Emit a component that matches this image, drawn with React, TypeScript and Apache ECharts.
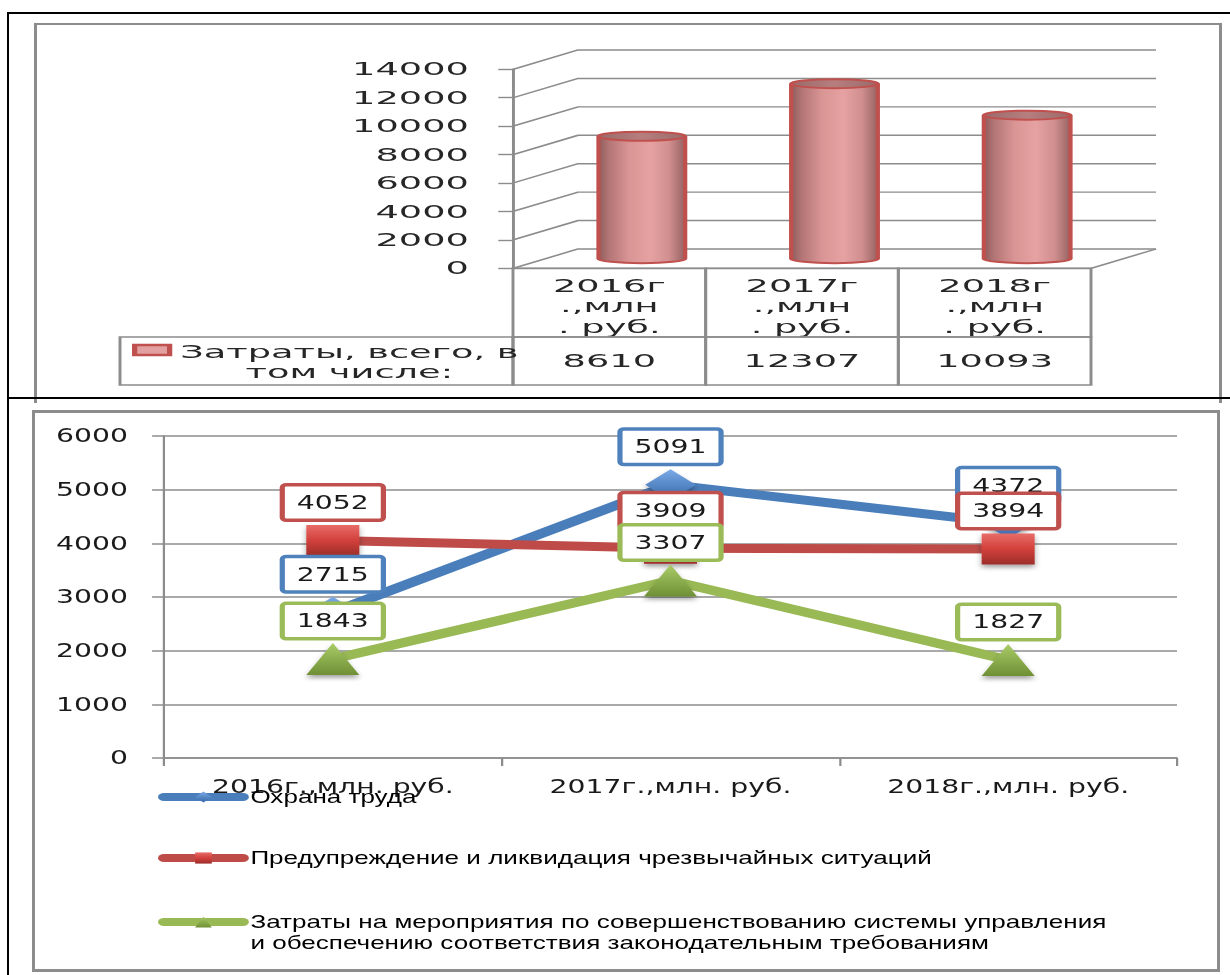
import React, { useEffect, useRef } from "react";
import * as echarts from "echarts";

// ---------- DATA ----------
const topCategories = ["2016г.,млн. руб.", "2017г.,млн. руб.", "2018г.,млн. руб."];
const topHeaderLabels = ["2016г\n.,млн\n. руб.", "2017г\n.,млн\n. руб.", "2018г\n.,млн\n. руб."];
const totalCosts = [8610, 12307, 10093];
const totalSeriesName = "Затраты, всего, в том числе:";
const topTicks = [0, 2000, 4000, 6000, 8000, 10000, 12000, 14000];

const lineCategories = ["2016г.,млн. руб.", "2017г.,млн. руб.", "2018г.,млн. руб."];
const laborProtection = [2715, 5091, 4372];
const emergencies = [4052, 3909, 3894];
const managementSystem = [1843, 3307, 1827];
const seriesNames = [
  "Охрана труда",
  "Предупреждение и ликвидация чрезвычайных ситуаций",
  "Затраты на мероприятия по совершенствованию системы управления и обеспечению соответствия законодательным требованиям",
];

// ---------- STYLE ----------
const S1 = 2.1; // horizontal stretch of the upper picture
const W1 = 1230 / S1;
const H1 = 398;
const S2 = 1.49; // horizontal stretch of the lower picture
const W2 = 1230 / S2;
const H2 = 577;
const DX = 65 / S1;
const DY = -19.3;
const GRAY = "#8c8c8c";
const RED = "#c0504d";
const BLUE = "#4f81bd";
const GREEN = "#9bbb59";
const FONT = "'DejaVu Sans', Verdana, sans-serif";
const LFONT = "'Liberation Sans', Arial, sans-serif";
const TXT = "#262626";
const HEADER_H = 68.7;
const ROW_H = 48;

const plain = (v: number) => String(v);

const bodyGradient = () =>
  new echarts.graphic.LinearGradient(0, 0, 1, 0, [
    { offset: 0, color: "#8e5c5c" },
    { offset: 0.12, color: "#b37575" },
    { offset: 0.35, color: "#d99494" },
    { offset: 0.6, color: "#e6a2a2" },
    { offset: 0.82, color: "#d08e8e" },
    { offset: 1, color: "#956262" },
  ]);

function wallItem(params: any, api: any) {
  const v = api.value(1);
  const bw = api.size([1, 0])[0];
  const p0 = api.coord([0, v]);
  const p2 = api.coord([2, v]);
  const xL = p0[0] - bw / 2;
  const xR = p2[0] + bw / 2;
  const y = p0[1];
  const children: any[] = [
    {
      type: "polyline",
      shape: { points: [[xL, y], [xL + DX, y + DY], [xR + DX, y + DY]] },
      style: { stroke: GRAY, lineWidth: 1.4, fill: null },
    },
  ];
  if (v === 0) {
    children.push({
      type: "line",
      shape: { x1: xR, y1: y, x2: xR + DX, y2: y + DY },
      style: { stroke: GRAY, lineWidth: 1.4 },
    });
  }
  return { type: "group", children };
}

function cylinderItem(params: any, api: any) {
  const i = api.value(0);
  const v = api.value(1);
  const top = api.coord([i, v]);
  const base = api.coord([i, 0]);
  const bw = api.size([1, 0])[0];
  const w = bw * 0.45;
  const cx = top[0] + DX / 2;
  const yt = top[1] + DY / 2;
  const yb = base[1] + DY / 2;
  const ry = 4.5;
  return {
    type: "group",
    children: [
      { type: "ellipse", shape: { cx, cy: yb, rx: w / 2, ry }, style: { fill: bodyGradient(), stroke: RED, lineWidth: 2 } },
      { type: "rect", shape: { x: cx - w / 2, y: yt, width: w, height: yb - yt }, style: { fill: bodyGradient() } },
      { type: "line", shape: { x1: cx - w / 2, y1: yt, x2: cx - w / 2, y2: yb }, style: { stroke: RED, lineWidth: 2 } },
      { type: "line", shape: { x1: cx + w / 2, y1: yt, x2: cx + w / 2, y2: yb }, style: { stroke: RED, lineWidth: 2 } },
      {
        type: "ellipse",
        shape: { cx, cy: yt, rx: w / 2, ry },
        style: {
          fill: new echarts.graphic.LinearGradient(0, 0, 1, 0, [
            { offset: 0, color: "#9a6a6a" },
            { offset: 0.5, color: "#b77e7e" },
            { offset: 1, color: "#9a6a6a" },
          ]),
          stroke: RED,
          lineWidth: 2,
        },
      },
    ],
  };
}

function tableItem(params: any, api: any) {
  const i = api.value(0);
  const c = api.coord([i, 0]);
  const bw = api.size([1, 0])[0];
  const x = c[0] - bw / 2;
  const y0 = c[1];
  return {
    type: "group",
    children: [
      { type: "rect", shape: { x, y: y0, width: bw, height: HEADER_H }, style: { fill: "none", stroke: GRAY, lineWidth: 1.4 } },
      { type: "rect", shape: { x, y: y0 + HEADER_H, width: bw, height: ROW_H }, style: { fill: "none", stroke: GRAY, lineWidth: 1.4 } },
      {
        type: "text",
        style: {
          text: String(api.value(1)),
          x: c[0],
          y: y0 + HEADER_H + ROW_H / 2,
          align: "center",
          verticalAlign: "middle",
          fontFamily: FONT,
          fontSize: 17.5,
          fill: TXT,
        },
      },
    ],
  };
}

const topOption: any = {
  animation: false,
  grid: { left: 513 / S1, top: 69.3, width: 578 / S1, height: 199 },
  xAxis: {
    type: "category",
    data: topCategories,
    axisLine: { show: true, lineStyle: { color: GRAY, width: 1.4 } },
    axisTick: { show: false },
    splitLine: { show: false },
    axisLabel: {
      interval: 0,
      formatter: (v: string, idx: number) => topHeaderLabels[idx],
      fontFamily: FONT,
      fontSize: 17.5,
      lineHeight: 20.5,
      color: TXT,
      margin: 7,
    },
  },
  yAxis: {
    type: "value",
    min: 0,
    max: 14000,
    interval: 2000,
    axisLine: { show: true, lineStyle: { color: GRAY, width: 1.4 } },
    axisTick: { show: true, length: 7, lineStyle: { color: GRAY, width: 1.4 } },
    splitLine: { show: false },
    axisLabel: { formatter: plain, fontFamily: FONT, fontSize: 17.5, color: TXT, margin: 21 },
  },
  legend: {
    orient: "vertical",
    left: 132 / S1,
    top: 318,
    padding: 0,
    itemWidth: 35 / S1,
    itemHeight: 10,
    selectedMode: false,
    data: [
      {
        name: totalSeriesName,
        icon: "rect",
        itemStyle: { color: "#e2a0a0", borderColor: RED, borderWidth: 2.5 },
      },
    ],
    formatter: (n: string) =>
      "{sp| }\n" +
      n
        .split(/ (?=том)/)
        .map((s) => `{a|${s}}`)
        .join("\n"),
    textStyle: {
      fontFamily: FONT,
      fontSize: 17.5,
      color: TXT,
      rich: {
        sp: { fontSize: 4, lineHeight: 24, height: 24 },
        a: { align: "center", fontFamily: FONT, fontSize: 17.5, lineHeight: 20, color: TXT },
      },
    },
  },
  graphic: [
    {
      type: "rect",
      shape: { x: 120 / S1, y: 268.3 + HEADER_H, width: (513 - 120) / S1, height: ROW_H },
      style: { fill: "none", stroke: GRAY, lineWidth: 1.4 },
      silent: true,
    },
  ],
  series: [
    {
      type: "custom",
      name: "wall",
      data: topTicks.map((v) => [0, v]),
      encode: { x: 0, y: 1 },
      renderItem: wallItem,
      silent: true,
      z: 1,
    },
    {
      type: "custom",
      name: "table",
      data: totalCosts.map((v, i) => [i, v]),
      encode: { x: 0, y: 1 },
      renderItem: tableItem,
      silent: true,
      z: 2,
    },
    {
      type: "custom",
      name: totalSeriesName,
      data: totalCosts.map((v, i) => [i, v]),
      encode: { x: 0, y: 1 },
      renderItem: cylinderItem,
      itemStyle: { color: "#e2a0a0" },
      z: 3,
    },
  ],
};

const labelStyle = (color: string) => ({
  show: true,
  position: "inside",
  offset: [0, -38],
  fontFamily: FONT,
  fontSize: 19,
  lineHeight: 22,
  color: "#1a1a1a",
  backgroundColor: "#ffffff",
  borderColor: color,
  borderWidth: 3.5,
  borderRadius: 1,
  padding: [5, 8, 5, 8],
});

const shadow = { shadowBlur: 4, shadowColor: "rgba(0,0,0,0.35)", shadowOffsetY: 3 };

const legendBase: any = {
  orient: "vertical",
  left: 158 / S2,
  padding: 0,
  itemGap: 0,
  itemWidth: 79 / S2,
  itemHeight: 14,
  selectedMode: false,
  lineStyle: { width: 8, cap: "round" },
  textStyle: { fontFamily: LFONT, fontSize: 17.5, lineHeight: 21, color: "#000" },
};

const bottomOption: any = {
  animation: false,
  grid: { left: 164 / S2, top: 436 - 398, width: (1177 - 164) / S2, height: 322 },
  xAxis: {
    type: "category",
    data: lineCategories,
    boundaryGap: true,
    axisLine: { show: true, lineStyle: { color: GRAY, width: 1.5 } },
    axisTick: { show: true, length: 8, lineStyle: { color: GRAY, width: 1.5 } },
    axisLabel: { interval: 0, fontFamily: FONT, fontSize: 19, lineHeight: 22, color: "#1a1a1a", margin: 18 },
  },
  yAxis: {
    type: "value",
    min: 0,
    max: 6000,
    interval: 1000,
    axisLine: { show: true, lineStyle: { color: GRAY, width: 1.5 } },
    axisTick: { show: true, length: 8, lineStyle: { color: GRAY, width: 1.5 } },
    splitLine: { show: true, lineStyle: { color: GRAY, width: 1.5 } },
    axisLabel: { formatter: plain, fontFamily: FONT, fontSize: 19, color: "#1a1a1a", margin: (164 - 128) / S2 },
  },
  legend: [
    { ...legendBase, top: 797 - 10.5 - 398, data: [seriesNames[0]] },
    { ...legendBase, top: 858 - 10.5 - 398, data: [seriesNames[1]] },
    {
      ...legendBase,
      top: 922 - 31.5 - 398,
      data: [seriesNames[2]],
      formatter: (n: string) =>
        "{sp| }\n" +
        n
          .split(/ (?=и обеспечению)/)
          .map((s) => `{t|${s}}`)
          .join("\n"),
      textStyle: {
        ...legendBase.textStyle,
        rich: {
          sp: { fontSize: 4, lineHeight: 21, height: 21 },
          t: { fontFamily: LFONT, fontSize: 17.5, lineHeight: 21, color: "#000" },
        },
      },
    },
  ],
  series: [
    {
      type: "line",
      name: seriesNames[0],
      data: laborProtection,
      symbol: "diamond",
      symbolSize: [34, 31],
      lineStyle: { color: "#4a7ebb", width: 9 },
      itemStyle: {
        color: new echarts.graphic.LinearGradient(0, 0, 0, 1, [
          { offset: 0, color: "#7aaae6" },
          { offset: 1, color: "#3567a8" },
        ]),
        ...shadow,
      },
      label: labelStyle(BLUE),
    },
    {
      type: "line",
      name: seriesNames[1],
      data: emergencies,
      symbol: "rect",
      symbolSize: [35.6, 31],
      lineStyle: { color: "#be4b48", width: 9 },
      itemStyle: {
        color: new echarts.graphic.LinearGradient(0, 0, 0, 1, [
          { offset: 0, color: "#e86c68" },
          { offset: 0.5, color: "#d2403c" },
          { offset: 1, color: "#9c2d2a" },
        ]),
        ...shadow,
      },
      label: labelStyle(RED),
    },
    {
      type: "line",
      name: seriesNames[2],
      data: managementSystem,
      symbol: "triangle",
      symbolSize: [35.6, 32],
      lineStyle: { color: "#98b954", width: 9 },
      itemStyle: {
        color: new echarts.graphic.LinearGradient(0, 0, 0, 1, [
          { offset: 0, color: "#a9cc67" },
          { offset: 1, color: "#6f8f35" },
        ]),
        ...shadow,
      },
      label: labelStyle(GREEN),
    },
  ],
};

export default function App() {
  const topRef = useRef<HTMLDivElement>(null);
  const botRef = useRef<HTMLDivElement>(null);

  useEffect(() => {
    const c1 = echarts.init(topRef.current as HTMLDivElement, null, { renderer: "svg" });
    c1.setOption(topOption);
    const c2 = echarts.init(botRef.current as HTMLDivElement, null, { renderer: "svg" });
    c2.setOption(bottomOption);
    return () => {
      c1.dispose();
      c2.dispose();
    };
  }, []);

  const abs: React.CSSProperties = { position: "absolute", boxSizing: "border-box", pointerEvents: "none" };

  return (
    <div style={{ position: "absolute", left: 0, top: 0, width: 1230, height: 975, background: "#fff", overflow: "hidden" }}>
      <div style={{ ...abs, left: 0, top: 0, width: W1, height: H1, transform: `scaleX(${S1})`, transformOrigin: "0 0" }}>
        <div ref={topRef} style={{ width: W1, height: H1 }} />
      </div>
      <div style={{ ...abs, left: 0, top: 398, width: W2, height: H2, transform: `scaleX(${S2})`, transformOrigin: "0 0" }}>
        <div ref={botRef} style={{ width: W2, height: H2 }} />
      </div>
      {/* gray frames */}
      <div style={{ ...abs, left: 34, top: 23, width: 1188, height: 380, borderTop: "2px solid #8c8c8c", borderLeft: "3px solid #8c8c8c", borderRight: "3px solid #8c8c8c" }} />
      <div style={{ ...abs, left: 32, top: 410, width: 1188, height: 562, border: "3px solid #8c8c8c" }} />
      {/* black frames */}
      <div style={{ ...abs, left: 7, top: 12, width: 1223, height: 2, background: "#000" }} />
      <div style={{ ...abs, left: 7, top: 12, width: 2, height: 963, background: "#000" }} />
      <div style={{ ...abs, left: 7, top: 397, width: 1223, height: 2, background: "#000" }} />
    </div>
  );
}
